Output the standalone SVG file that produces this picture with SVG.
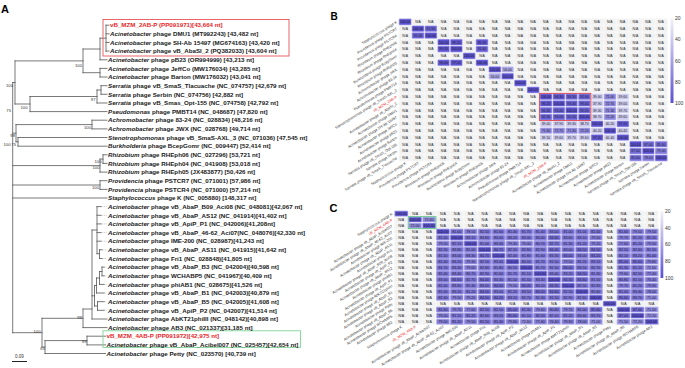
<svg xmlns="http://www.w3.org/2000/svg" width="685" height="368" viewBox="0 0 685 368">
<defs>
<style>
text{font-family:"Liberation Sans",Arial,Helvetica,sans-serif}
.tl{font-size:6.2px;font-weight:bold;fill:#1a1a1a}
.it{font-style:italic}
.red{fill:#e8262a}
.bs{font-size:4.2px;fill:#333;text-anchor:end}
.br{fill:none;stroke:#555;stroke-width:.8;stroke-linecap:square}
.dt{fill:none;stroke:#888;stroke-width:.6;stroke-dasharray:.7 .9}
.pl{font-size:11px;font-weight:bold;fill:#000}
.hl text{font-size:3.7px;fill:#333;text-anchor:end}
.hl .r{fill:#e8262a}
.cl text{text-anchor:middle;fill:#222;font-kerning:none}
#hb .cl text{font-size:3.4px}
#hc .cl text{font-size:3.6px}
#hb .cl .na{text-anchor:start;word-spacing:6.187px}
#hc .cl .na{text-anchor:start;word-spacing:6.898px}
#hb .cl rect{y:-4.6px;width:12.8px;height:6.8px}
#hc .cl rect{y:-4.3px;width:13.9px;height:6px}
.cl rect{stroke:#fff;stroke-width:.4}
.a{fill:#5a50d2}.b{fill:#6056d3}.c{fill:#685fd5}.d{fill:#746cd8}.e{fill:#7c74da}.f{fill:#837cdc}.g{fill:#8e88df}.h{fill:#aca8e6}.i{fill:#cccaee}
.cb{font-size:5px;fill:#333}
</style>
<linearGradient id="cg" x1="0" y1="0" x2="0" y2="1"><stop offset="0" stop-color="#f2f2f7"/><stop offset="1" stop-color="#5a50d2"/></linearGradient>
<pattern id="gb" width="12.8" height="6.8" patternUnits="userSpaceOnUse"><rect width="12.8" height="6.8" fill="none" stroke="#fff" stroke-width=".6"/></pattern>
<pattern id="gc" width="13.9" height="6" patternUnits="userSpaceOnUse"><rect width="13.9" height="6" fill="none" stroke="#fff" stroke-width=".6"/></pattern>
</defs>
<rect width="685" height="368" fill="#fff"/>
<text class="pl" x="1" y="12.5">A</text>
<text class="pl" x="330.5" y="19.5" style="font-size:10px">B</text>
<text class="pl" x="329.5" y="212">C</text>

<g id="connectors">
<path class="br" d="M106 25.2V51.1M106 25.2H109M106 33.8H109M106 42.5H109M106 51.1H109M100 38.2H106M100 38.2V59.8M100 59.8H107M83 49H100M100 68.4V77M100 68.4H107M100 77H107M83 72.7H100M83 49V72.7M15 60.9H83M101 85.7V94.3M101 85.7H107M101 94.3H107M97 90H101M97 90V103M97 103H107M30 96.5H97M30 96.5V111.6M30 111.6H107M15 60.9V104M15 104H30M12.7 82.5H15M12.7 82.5V332.7M92 120.2V128.9M92 120.2H107M92 128.9H107M16 124.6H92M16 124.6V141.8M18 137.5V146.2M18 137.5H107M18 146.2H107M16 141.8H18M12.7 133.2H16M103 154.8V163.4M103 154.8H107M103 163.4H107M100 159.1H103M100 159.1V172.1M100 172.1H107M12.7 165.6H100M100 180.7V189.4M100 180.7H107M100 189.4H107M12.7 185H100M12.7 198H107M97 206.6V253.7M97 206.6H101M97 215.3H101M97 223.9H101M97 232.6H101M97 241.2H101M92 230H97M99.5 249.8V258.5M99.5 249.8H102M99.5 258.5H102M97 253.7H99.5M102 267.1V275.8M102 267.1H104M102 275.8H104M99.5 271.5H102M99.5 271.5V284.4M99.5 284.4H104M96.5 278H99.5M96.5 278V293M96.5 293H104M97.5 301.7V310.3M97.5 301.7H104M97.5 310.3H104M94.5 285.5H96.5M94.5 285.5V306M94.5 306H97.5M92 295.8H94.5M92 230V319M92 319H107M83 309H92M83 309V327.6M83 327.6H107M42 318.3H83M42 318.3V347M42 347H45M45 340.6V353.5M45 353.5H105.5M45 340.6H87M87 336.2V344.9M87 336.2H105.5M87 344.9H105.5M12.7 332.7H42"/>
<path class="dt" d="M101 206.6H107M101 215.3H107M101 223.9H107M101 232.6H107M101 241.2H107M102 249.8H107M102 258.5H107M104 267.1H107M104 275.8H107M104 284.4H107M104 293H107M104 301.7H107M104 310.3H107"/>
<path d="M12 361.5H27" stroke="#222" stroke-width="1"/>
</g>
<g id="bootstrap">
<text class="bs" x="82" y="66.5">100</text>
<text class="bs" x="95.5" y="100.5">97</text>
<text class="bs" x="27.5" y="108.5">100</text>
<text class="bs" x="13" y="87">100</text>
<text class="bs" x="11" y="111.5">75</text>
<text class="bs" x="91" y="128.5">100</text>
<text class="bs" x="15" y="136.5">98</text>
<text class="bs" x="10.5" y="146">100</text>
<text class="bs" x="16" y="146">75</text>
<text class="bs" x="101.5" y="162.5">100</text>
<text class="bs" x="99.5" y="169.2">100</text>
<text class="bs" x="99" y="189.2">100</text>
<text class="bs" x="82" y="319.2">99</text>
<text class="bs" x="40.5" y="333.2">100</text>
<text class="bs" x="86.5" y="343.2">99</text>
<text class="bs" x="45" y="349.8">65</text>
<text x="15" y="358" style="font-size:4.5px;fill:#333">0.09</text>
</g>
<rect x="103" y="19.5" width="186" height="36.5" fill="none" stroke="#e8545a" stroke-width=".9"/>
<rect x="103" y="330.8" width="197.5" height="16.6" fill="none" stroke="#7dd497" stroke-width=".9"/>
<g id="tips" class="tl">
<g id="t1"><text class="tl red" x="110" y="27.4">vB_MZM_2AB-P (PP091971)[43,664 nt]</text></g>
<g id="t2"><text x="110" y="36"><tspan class="it">Acinetobacter</tspan> phage DMU1 (MT992243) [43,482 nt]</text></g>
<g id="t3"><text x="110" y="44.7"><tspan class="it">Acinetobacter</tspan> phage SH-Ab 15497 (MG674163) [43,420 nt]</text></g>
<g id="t4"><text x="110" y="53.3"><tspan class="it">Acinetobacter</tspan> phage vB_AbaSI_2 (PQ382033) [43,604 nt]</text></g>
<g id="t5"><text x="108" y="62"><tspan class="it">Acinetobacter</tspan> phage pB23 (OR994999) [43,213 nt]</text></g>
<g id="t6"><text x="108" y="70.6"><tspan class="it">Acinetobacter</tspan> phage JeffCo (MW176034) [43,285 nt]</text></g>
<g id="t7"><text x="108" y="79.2"><tspan class="it">Acinetobacter</tspan> phage Barton (MW176032) [43,041 nt]</text></g>
<g id="t8"><text x="108" y="87.9"><tspan class="it">Serratia</tspan> phage vB_SmaS_Tlacuache (NC_074757) [42,679 nt]</text></g>
<g id="t9"><text x="108" y="96.5"><tspan class="it">Serratia</tspan> phage Serbin (NC_074756) [42,882 nt]</text></g>
<g id="t10"><text x="108" y="105.2"><tspan class="it">Serratia</tspan> phage vB_Smas_Opt-155 (NC_074758) [42,792 nt]</text></g>
<g id="t11"><text x="108" y="113.8"><tspan class="it">Pseudomonas</tspan> phage PMBT14 (NC_048687) [47,820 nt]</text></g>
<g id="t12"><text x="108" y="122.4"><tspan class="it">Achromobacter</tspan> phage 83-24 (NC_028834) [48,216 nt]</text></g>
<g id="t13"><text x="108" y="131.1"><tspan class="it">Achromobacter</tspan> phage JWX (NC_028768) [49,714 nt]</text></g>
<g id="t14"><text x="108" y="139.7"><tspan class="it">Stenotrophomonas</tspan> phage vB_SmaS-AXL_3 (NC_071036) [47,545 nt]</text></g>
<g id="t15"><text x="108" y="148.4"><tspan class="it">Burkholderia</tspan> phage BcepGomr (NC_009447) [52,414 nt]</text></g>
<g id="t16"><text x="108" y="157"><tspan class="it">Rhizobium</tspan> phage RHEph06 (NC_027296) [53,721 nt]</text></g>
<g id="t17"><text x="108" y="165.6"><tspan class="it">Rhizobium</tspan> phage RHEph04 (NC_041908) [53,018 nt]</text></g>
<g id="t18"><text x="108" y="174.3"><tspan class="it">Rhizobium</tspan> phage RHEph05 (JX483877) [50,426 nt]</text></g>
<g id="t19"><text x="108" y="182.9"><tspan class="it">Providencia</tspan> phage PSTCR7 (NC_071001) [57,986 nt]</text></g>
<g id="t20"><text x="108" y="191.6"><tspan class="it">Providencia</tspan> phage PSTCR4 (NC_071000) [57,214 nt]</text></g>
<g id="t21"><text x="108" y="200.2"><tspan class="it">Staphylococcus</tspan> phage K (NC_005880) [148,317 nt]</text></g>
<g id="t22"><text x="108" y="208.8"><tspan class="it">Acinetobacter</tspan> phage vB_AbaP_B09_Aci08 (NC_048081)[42,067 nt]</text></g>
<g id="t23"><text x="108" y="217.5"><tspan class="it">Acinetobacter</tspan> phage vB_AbaP_AS12 (NC_041914)[41,402 nt]</text></g>
<g id="t24"><text x="108" y="226.1"><tspan class="it">Acinetobacter</tspan> phage vB_ApiP_P1 (NC_042006)[41,208nt]</text></g>
<g id="t25"><text x="108" y="234.8"><tspan class="it">Acinetobacter</tspan> phage vB_AbaP_46-62_Aci07(NC_048076)[42,330 nt]</text></g>
<g id="t26"><text x="108" y="243.4"><tspan class="it">Acinetobacter</tspan> phage IME-200 (NC_028987)[41,243 nt]</text></g>
<g id="t27"><text x="108" y="252"><tspan class="it">Acinetobacter</tspan> phage vB_AbaP_AS11 (NC_041915)[41,642 nt]</text></g>
<g id="t28"><text x="108" y="260.7"><tspan class="it">Acinetobacter</tspan> phage Fri1 (NC_028848)[41,805 nt]</text></g>
<g id="t29"><text x="108" y="269.3"><tspan class="it">Acinetobacter</tspan> phage vB_AbaP_B3 (NC_042004)[40,598 nt]</text></g>
<g id="t30"><text x="108" y="278"><tspan class="it">Acinetobacter</tspan> phage WCHABP5 (NC_041967)[40,409 nt]</text></g>
<g id="t31"><text x="108" y="286.6"><tspan class="it">Acinetobacter</tspan> phage phiAB1 (NC_028675)[41,526 nt]</text></g>
<g id="t32"><text x="108" y="295.2"><tspan class="it">Acinetobacter</tspan> phage vB_AbaP_B1 (NC_042003)[40,879 nt]</text></g>
<g id="t33"><text x="108" y="303.9"><tspan class="it">Acinetobacter</tspan> phage vB_AbaP_B5 (NC_042005)[41,608 nt]</text></g>
<g id="t34"><text x="108" y="312.5"><tspan class="it">Acinetobacter</tspan> phage vB_ApiP_P2 (NC_042007)[41,514 nt]</text></g>
<g id="t35"><text x="108" y="321.2"><tspan class="it">Acinetobacter</tspan> phage AbKT21phiIII (NC_048142)[40,898 nt]</text></g>
<g id="t36"><text x="108" y="329.8"><tspan class="it">Acinetobacter</tspan> phage AB3 (NC_021337)[31,185 nt]</text></g>
<g id="t37"><text class="tl red" x="106.5" y="338.4">vB_MZM_4AB-P (PP091972)[42,975 nt]</text></g>
<g id="t38"><text x="106.5" y="347.1"><tspan class="it">Acinetobacter</tspan> phage vB_AbaP_Acibel007 (NC_025457)[42,654 nt]</text></g>
<g id="t39"><text x="106.5" y="355.7"><tspan class="it">Acinetobacter</tspan> phage Petty (NC_023570) [40,739 nt]</text></g>
</g>

<g id="hb" transform="translate(398.8 18.5)">
<rect width="268.8" height="142.8" fill="#f1f1f1"/>
<g class="cl">
<g transform="translate(0 4.6)"><rect class="a" x="0"/><text x="6.4">100.00</text><text class="na" x="16.37">N/A N/A N/A N/A N/A N/A N/A N/A N/A N/A N/A N/A N/A N/A N/A N/A N/A N/A N/A N/A</text></g>
<g transform="translate(0 11.4)"><rect class="a" x="12.8"/><rect class="c" x="25.6"/><text x="19.2">100.00</text><text x="32">91.90</text><text class="na" x="3.57">N/A</text><text class="na" x="41.97">N/A N/A N/A N/A N/A N/A N/A N/A N/A N/A N/A N/A N/A N/A N/A N/A N/A N/A</text></g>
<g transform="translate(0 18.2)"><rect class="c" x="12.8"/><rect class="a" x="25.6"/><text x="19.2">91.00</text><text x="32">100.00</text><text class="na" x="3.57">N/A</text><text class="na" x="41.97">N/A N/A N/A N/A N/A N/A N/A N/A N/A N/A N/A N/A N/A N/A N/A N/A N/A N/A</text></g>
<g transform="translate(0 25)"><rect class="a" x="38.4"/><rect class="b" x="51.2"/><rect class="b" x="76.8"/><text x="44.8">100.00</text><text x="57.6">99.20</text><text x="83.2">95.90</text><text class="na" x="3.57">N/A N/A N/A</text><text class="na" x="67.57">N/A</text><text class="na" x="93.17">N/A N/A N/A N/A N/A N/A N/A N/A N/A N/A N/A N/A N/A N/A</text></g>
<g transform="translate(0 31.8)"><rect class="b" x="38.4"/><rect class="a" x="51.2"/><rect class="c" x="76.8"/><text x="44.8">99.20</text><text x="57.6">100.00</text><text x="83.2">91.00</text><text class="na" x="3.57">N/A N/A N/A</text><text class="na" x="67.57">N/A</text><text class="na" x="93.17">N/A N/A N/A N/A N/A N/A N/A N/A N/A N/A N/A N/A N/A N/A</text></g>
<g transform="translate(0 38.6)"><rect class="a" x="64"/><text x="70.4">100.00</text><text class="na" x="3.57">N/A N/A N/A N/A N/A</text><text class="na" x="80.37">N/A N/A N/A N/A N/A N/A N/A N/A N/A N/A N/A N/A N/A N/A N/A</text></g>
<g transform="translate(0 45.4)"><rect class="b" x="38.4"/><rect class="b" x="51.2"/><rect class="a" x="76.8"/><text x="44.8">96.00</text><text x="57.6">97.50</text><text x="83.2">100.00</text><text class="na" x="3.57">N/A N/A N/A</text><text class="na" x="67.57">N/A</text><text class="na" x="93.17">N/A N/A N/A N/A N/A N/A N/A N/A N/A N/A N/A N/A N/A N/A</text></g>
<g transform="translate(0 52.2)"><rect class="a" x="89.6"/><rect class="h" x="102.4"/><text x="96">100.00</text><text x="108.8">56.00</text><text class="na" x="3.57">N/A N/A N/A N/A N/A N/A N/A</text><text class="na" x="118.77">N/A N/A N/A N/A N/A N/A N/A N/A N/A N/A N/A N/A</text></g>
<g transform="translate(0 59)"><rect class="h" x="89.6"/><rect class="a" x="102.4"/><text x="96">56.00</text><text x="108.8">100.00</text><text class="na" x="3.57">N/A N/A N/A N/A N/A N/A N/A</text><text class="na" x="118.77">N/A N/A N/A N/A N/A N/A N/A N/A N/A N/A N/A N/A</text></g>
<g transform="translate(0 65.8)"><rect class="a" x="115.2"/><text x="121.6">100.00</text><text class="na" x="3.57">N/A N/A N/A N/A N/A N/A N/A N/A N/A</text><text class="na" x="131.57">N/A N/A N/A N/A N/A N/A N/A N/A N/A N/A N/A</text></g>
<g transform="translate(0 72.6)"><rect class="a" x="128"/><text x="134.4">100.00</text><text class="na" x="3.57">N/A N/A N/A N/A N/A N/A N/A N/A N/A N/A</text><text class="na" x="144.37">N/A N/A N/A N/A N/A N/A N/A N/A N/A N/A</text></g>
<g transform="translate(0 79.4)"><rect class="a" x="140.8"/><rect class="b" x="153.6"/><rect class="c" x="166.4"/><rect class="c" x="179.2"/><rect class="i" x="192"/><rect class="g" x="204.8"/><rect class="i" x="217.6"/><text x="147.2">100.00</text><text x="160">96.30</text><text x="172.8">94.30</text><text x="185.6">92.90</text><text x="198.4">39.00</text><text x="211.2">71.00</text><text x="224">39.60</text><text class="na" x="3.57">N/A N/A N/A N/A N/A N/A N/A N/A N/A N/A N/A</text><text class="na" x="233.97">N/A N/A N/A</text></g>
<g transform="translate(0 86.2)"><rect class="b" x="140.8"/><rect class="a" x="153.6"/><rect class="c" x="166.4"/><rect class="c" x="179.2"/><rect class="i" x="192"/><rect class="g" x="204.8"/><rect class="i" x="217.6"/><text x="147.2">96.20</text><text x="160">100.00</text><text x="172.8">93.40</text><text x="185.6">93.00</text><text x="198.4">37.90</text><text x="211.2">72.70</text><text x="224">39.00</text><text class="na" x="3.57">N/A N/A N/A N/A N/A N/A N/A N/A N/A N/A N/A</text><text class="na" x="233.97">N/A N/A N/A</text></g>
<g transform="translate(0 93)"><rect class="c" x="140.8"/><rect class="c" x="153.6"/><rect class="a" x="166.4"/><rect class="c" x="179.2"/><rect class="i" x="192"/><rect class="g" x="204.8"/><rect class="i" x="217.6"/><text x="147.2">94.30</text><text x="160">93.40</text><text x="172.8">100.00</text><text x="185.6">92.20</text><text x="198.4">39.30</text><text x="211.2">71.30</text><text x="224">39.70</text><text class="na" x="3.57">N/A N/A N/A N/A N/A N/A N/A N/A N/A N/A N/A</text><text class="na" x="233.97">N/A N/A N/A</text></g>
<g transform="translate(0 99.8)"><rect class="c" x="140.8"/><rect class="c" x="153.6"/><rect class="c" x="166.4"/><rect class="a" x="179.2"/><rect class="i" x="192"/><rect class="g" x="204.8"/><rect class="i" x="217.6"/><text x="147.2">92.90</text><text x="160">93.00</text><text x="172.8">92.20</text><text x="185.6">100.00</text><text x="198.4">38.70</text><text x="211.2">72.20</text><text x="224">39.60</text><text class="na" x="3.57">N/A N/A N/A N/A N/A N/A N/A N/A N/A N/A N/A</text><text class="na" x="233.97">N/A N/A N/A</text></g>
<g transform="translate(0 106.6)"><rect class="i" x="140.8"/><rect class="i" x="153.6"/><rect class="i" x="166.4"/><rect class="i" x="179.2"/><rect class="a" x="192"/><rect class="i" x="204.8"/><rect class="b" x="217.6"/><text x="147.2">39.00</text><text x="160">37.90</text><text x="172.8">39.30</text><text x="185.6">38.70</text><text x="198.4">100.00</text><text x="211.2">40.20</text><text x="224">97.20</text><text class="na" x="3.57">N/A N/A N/A N/A N/A N/A N/A N/A N/A N/A N/A</text><text class="na" x="233.97">N/A N/A N/A</text></g>
<g transform="translate(0 113.4)"><rect class="g" x="140.8"/><rect class="g" x="153.6"/><rect class="g" x="166.4"/><rect class="g" x="179.2"/><rect class="i" x="192"/><rect class="a" x="204.8"/><rect class="i" x="217.6"/><text x="147.2">71.60</text><text x="160">72.70</text><text x="172.8">71.30</text><text x="185.6">72.20</text><text x="198.4">40.20</text><text x="211.2">100.00</text><text x="224">40.40</text><text class="na" x="3.57">N/A N/A N/A N/A N/A N/A N/A N/A N/A N/A N/A</text><text class="na" x="233.97">N/A N/A N/A</text></g>
<g transform="translate(0 120.2)"><rect class="i" x="140.8"/><rect class="i" x="153.6"/><rect class="i" x="166.4"/><rect class="i" x="179.2"/><rect class="b" x="192"/><rect class="i" x="204.8"/><rect class="a" x="217.6"/><text x="147.2">39.50</text><text x="160">39.60</text><text x="172.8">39.70</text><text x="185.6">39.60</text><text x="198.4">97.20</text><text x="211.2">40.40</text><text x="224">100.00</text><text class="na" x="3.57">N/A N/A N/A N/A N/A N/A N/A N/A N/A N/A N/A</text><text class="na" x="233.97">N/A N/A N/A</text></g>
<g transform="translate(0 127)"><rect class="a" x="230.4"/><rect class="d" x="243.2"/><rect class="d" x="256"/><text x="236.8">100.00</text><text x="249.6">87.00</text><text x="262.4">85.00</text><text class="na" x="3.57">N/A N/A N/A N/A N/A N/A N/A N/A N/A N/A N/A N/A N/A N/A N/A N/A N/A N/A</text></g>
<g transform="translate(0 133.8)"><rect class="d" x="230.4"/><rect class="a" x="243.2"/><rect class="f" x="256"/><text x="236.8">87.00</text><text x="249.6">100.00</text><text x="262.4">79.00</text><text class="na" x="3.57">N/A N/A N/A N/A N/A N/A N/A N/A N/A N/A N/A N/A N/A N/A N/A N/A N/A N/A</text></g>
<g transform="translate(0 140.6)"><rect class="d" x="230.4"/><rect class="f" x="243.2"/><rect class="a" x="256"/><text x="236.8">85.00</text><text x="249.6">78.00</text><text x="262.4">100.00</text><text class="na" x="3.57">N/A N/A N/A N/A N/A N/A N/A N/A N/A N/A N/A N/A N/A N/A N/A N/A N/A N/A</text></g>
</g>
<rect width="268.8" height="142.8" fill="url(#gb)"/>
<rect x="140.8" y="74.8" width="51.2" height="27.2" fill="none" stroke="#e0303a" stroke-width=".8"/>
<g class="hl">
<text transform="translate(-1.5 4.4)rotate(-32)">Staphylococcus phage K</text>
<text transform="translate(-1.5 11.2)rotate(-32)">Providencia phage PSTCR7</text>
<text transform="translate(-1.5 18)rotate(-32)">Providencia phage PSTCR4</text>
<text transform="translate(-1.5 24.8)rotate(-32)">Rhizobium phage RHEph06</text>
<text transform="translate(-1.5 31.6)rotate(-32)">Rhizobium phage RHEph04</text>
<text transform="translate(-1.5 38.4)rotate(-32)">Burkholderia phage BcepGomr</text>
<text transform="translate(-1.5 45.2)rotate(-32)">Rhizobium phage RHEph05</text>
<text transform="translate(-1.5 52)rotate(-32)">Achromobacter phage JWX</text>
<text transform="translate(-1.5 58.8)rotate(-32)">Achromobacter phage 83-24</text>
<text transform="translate(-1.5 65.6)rotate(-32)">Pseudomonas phage PMBT14</text>
<text transform="translate(-1.5 72.4)rotate(-32)">Stenotrophomonas phage vB_SmaS-AXL_3</text>
<text class="r" transform="translate(-1.5 79.2)rotate(-32)">vB_MZM_2AB-P</text>
<text transform="translate(-1.5 86)rotate(-32)">Acinetobacter phage vB_AbaSI_2</text>
<text transform="translate(-1.5 92.8)rotate(-32)">Acinetobacter phage DMU1</text>
<text transform="translate(-1.5 99.6)rotate(-32)">Acinetobacter phage SH-Ab 15497</text>
<text transform="translate(-1.5 106.4)rotate(-32)">Acinetobacter phage JeffCo</text>
<text transform="translate(-1.5 113.2)rotate(-32)">Acinetobacter phage pB23</text>
<text transform="translate(-1.5 120)rotate(-32)">Acinetobacter phage Barton</text>
<text transform="translate(-1.5 126.8)rotate(-32)">Serratia phage vB_SmaS_Opt-155</text>
<text transform="translate(-1.5 133.6)rotate(-32)">Serratia phage Serbin</text>
<text transform="translate(-1.5 140.4)rotate(-32)">Serratia phage vB_SmaS_Tlacuache</text>
<text transform="translate(7.6 145.5)rotate(-32)">Staphylococcus phage K</text>
<text transform="translate(20.4 145.5)rotate(-32)">Providencia phage PSTCR7</text>
<text transform="translate(33.2 145.5)rotate(-32)">Providencia phage PSTCR4</text>
<text transform="translate(46 145.5)rotate(-32)">Rhizobium phage RHEph06</text>
<text transform="translate(58.8 145.5)rotate(-32)">Rhizobium phage RHEph04</text>
<text transform="translate(71.6 145.5)rotate(-32)">Burkholderia phage BcepGomr</text>
<text transform="translate(84.4 145.5)rotate(-32)">Rhizobium phage RHEph05</text>
<text transform="translate(97.2 145.5)rotate(-32)">Achromobacter phage JWX</text>
<text transform="translate(110 145.5)rotate(-32)">Achromobacter phage 83-24</text>
<text transform="translate(122.8 145.5)rotate(-32)">Pseudomonas phage PMBT14</text>
<text transform="translate(135.6 145.5)rotate(-32)">Stenotrophomonas phage vB_SmaS-AXL_3</text>
<text class="r" transform="translate(148.4 145.5)rotate(-32)">vB_MZM_2AB-P</text>
<text transform="translate(161.2 145.5)rotate(-32)">Acinetobacter phage vB_AbaSI_2</text>
<text transform="translate(174 145.5)rotate(-32)">Acinetobacter phage DMU1</text>
<text transform="translate(186.8 145.5)rotate(-32)">Acinetobacter phage SH-Ab 15497</text>
<text transform="translate(199.6 145.5)rotate(-32)">Acinetobacter phage JeffCo</text>
<text transform="translate(212.4 145.5)rotate(-32)">Acinetobacter phage pB23</text>
<text transform="translate(225.2 145.5)rotate(-32)">Acinetobacter phage Barton</text>
<text transform="translate(238 145.5)rotate(-32)">Serratia phage vB_SmaS_Opt-155</text>
<text transform="translate(250.8 145.5)rotate(-32)">Serratia phage Serbin</text>
<text transform="translate(263.6 145.5)rotate(-32)">Serratia phage vB_SmaS_Tlacuache</text>
</g>
</g>

<g id="hc" transform="translate(394.3 210.7)">
<rect width="264.1" height="114" fill="#f1f1f1"/>
<rect class="e" x="41.7" y="18" width="166.8" height="72"/>
<rect class="e" x="222.4" y="18" width="41.7" height="72"/>
<rect class="e" x="41.7" y="96" width="166.8" height="18"/>
<rect class="e" x="222.4" y="96" width="41.7" height="18"/>
<g class="cl">
<g transform="translate(0 4.3)"><rect class="a" x="0"/><text x="6.9">100.00</text><text class="na" x="17.85">N/A N/A N/A N/A N/A N/A N/A N/A N/A N/A N/A N/A N/A N/A N/A N/A N/A N/A</text></g>
<g transform="translate(0 10.3)"><rect class="a" x="13.9"/><rect class="g" x="27.8"/><text x="20.8">100.00</text><text x="34.7">72.60</text><text class="na" x="3.95">N/A</text><text class="na" x="45.65">N/A N/A N/A N/A N/A N/A N/A N/A N/A N/A N/A N/A N/A N/A N/A N/A</text></g>
<g transform="translate(0 16.3)"><rect class="g" x="13.9"/><rect class="a" x="27.8"/><text x="20.8">72.00</text><text x="34.7">100.00</text><text class="na" x="3.95">N/A</text><text class="na" x="45.65">N/A N/A N/A N/A N/A N/A N/A N/A N/A N/A N/A N/A N/A N/A N/A N/A</text></g>
<g transform="translate(0 22.3)"><rect class="a" x="41.7"/><rect class="f" x="69.5"/><rect class="f" x="236.3"/><rect class="f" x="250.2"/><text x="48.6">100.00</text><text x="62.5">81.00</text><text x="76.4">78.50</text><text x="90.3">82.50</text><text x="104.2">81.60</text><text x="118.1">81.40</text><text x="132">81.70</text><text x="145.9">81.40</text><text x="159.8">83.00</text><text x="173.7">81.00</text><text x="187.6">81.00</text><text x="201.5">82.40</text><text x="229.3">81.60</text><text x="243.2">79.50</text><text x="257.1">79.50</text><text class="na" x="3.95">N/A N/A N/A</text><text class="na" x="212.45">N/A</text></g>
<g transform="translate(0 28.3)"><rect class="a" x="55.6"/><rect class="d" x="152.9"/><rect class="f" x="194.6"/><rect class="f" x="222.4"/><text x="48.6">81.00</text><text x="62.5">100.00</text><text x="76.4">83.10</text><text x="90.3">83.80</text><text x="104.2">83.00</text><text x="118.1">83.20</text><text x="132">83.30</text><text x="145.9">83.40</text><text x="159.8">84.60</text><text x="173.7">83.60</text><text x="187.6">83.10</text><text x="201.5">79.50</text><text x="229.3">79.70</text><text x="243.2">81.10</text><text x="257.1">81.20</text><text class="na" x="3.95">N/A N/A N/A</text><text class="na" x="212.45">N/A</text></g>
<g transform="translate(0 34.3)"><rect class="f" x="41.7"/><rect class="a" x="69.5"/><rect class="f" x="111.2"/><rect class="f" x="125.1"/><rect class="f" x="194.6"/><rect class="f" x="222.4"/><rect class="f" x="250.2"/><text x="48.6">79.50</text><text x="62.5">82.10</text><text x="76.4">100.00</text><text x="90.3">81.00</text><text x="104.2">83.30</text><text x="118.1">79.30</text><text x="132">79.00</text><text x="145.9">80.70</text><text x="159.8">82.70</text><text x="173.7">81.30</text><text x="187.6">81.20</text><text x="201.5">79.20</text><text x="229.3">77.60</text><text x="243.2">81.20</text><text x="257.1">79.50</text><text class="na" x="3.95">N/A N/A N/A</text><text class="na" x="212.45">N/A</text></g>
<g transform="translate(0 40.3)"><rect class="a" x="83.4"/><rect class="d" x="97.3"/><rect class="d" x="152.9"/><rect class="d" x="180.7"/><rect class="d" x="194.6"/><text x="48.6">82.30</text><text x="62.5">83.80</text><text x="76.4">81.00</text><text x="90.3">100.00</text><text x="104.2">84.70</text><text x="118.1">82.50</text><text x="132">82.80</text><text x="145.9">82.90</text><text x="159.8">84.40</text><text x="173.7">83.00</text><text x="187.6">84.50</text><text x="201.5">84.50</text><text x="229.3">82.50</text><text x="243.2">82.60</text><text x="257.1">81.50</text><text class="na" x="3.95">N/A N/A N/A</text><text class="na" x="212.45">N/A</text></g>
<g transform="translate(0 46.3)"><rect class="d" x="83.4"/><rect class="a" x="97.3"/><rect class="d" x="166.8"/><rect class="d" x="194.6"/><text x="48.6">81.50</text><text x="62.5">83.00</text><text x="76.4">83.30</text><text x="90.3">84.70</text><text x="104.2">100.00</text><text x="118.1">82.40</text><text x="132">81.80</text><text x="145.9">81.60</text><text x="159.8">83.30</text><text x="173.7">84.00</text><text x="187.6">83.00</text><text x="201.5">84.20</text><text x="229.3">82.10</text><text x="243.2">83.20</text><text x="257.1">81.40</text><text class="na" x="3.95">N/A N/A N/A</text><text class="na" x="212.45">N/A</text></g>
<g transform="translate(0 52.3)"><rect class="f" x="69.5"/><rect class="a" x="111.2"/><rect class="f" x="166.8"/><rect class="d" x="222.4"/><rect class="d" x="236.3"/><rect class="f" x="250.2"/><text x="48.6">81.40</text><text x="62.5">83.20</text><text x="76.4">79.30</text><text x="90.3">82.50</text><text x="104.2">83.40</text><text x="118.1">100.00</text><text x="132">80.50</text><text x="145.9">81.70</text><text x="159.8">81.50</text><text x="173.7">79.50</text><text x="187.6">81.20</text><text x="201.5">83.10</text><text x="229.3">85.00</text><text x="243.2">85.60</text><text x="257.1">79.80</text><text class="na" x="3.95">N/A N/A N/A</text><text class="na" x="212.45">N/A</text></g>
<g transform="translate(0 58.3)"><rect class="f" x="69.5"/><rect class="a" x="125.1"/><rect class="d" x="166.8"/><rect class="g" x="250.2"/><text x="48.6">81.70</text><text x="62.5">83.30</text><text x="76.4">79.00</text><text x="90.3">82.80</text><text x="104.2">81.80</text><text x="118.1">80.50</text><text x="132">100.00</text><text x="145.9">81.70</text><text x="159.8">81.50</text><text x="173.7">84.00</text><text x="187.6">83.50</text><text x="201.5">82.70</text><text x="229.3">81.30</text><text x="243.2">81.10</text><text x="257.1">72.60</text><text class="na" x="3.95">N/A N/A N/A</text><text class="na" x="212.45">N/A</text></g>
<g transform="translate(0 64.3)"><rect class="a" x="139"/><rect class="d" x="180.7"/><rect class="f" x="222.4"/><rect class="f" x="250.2"/><text x="48.6">81.40</text><text x="62.5">83.40</text><text x="76.4">80.70</text><text x="90.3">82.90</text><text x="104.2">81.60</text><text x="118.1">81.70</text><text x="132">81.10</text><text x="145.9">100.00</text><text x="159.8">83.40</text><text x="173.7">83.20</text><text x="187.6">84.50</text><text x="201.5">81.30</text><text x="229.3">79.60</text><text x="243.2">82.50</text><text x="257.1">77.40</text><text class="na" x="3.95">N/A N/A N/A</text><text class="na" x="212.45">N/A</text></g>
<g transform="translate(0 70.3)"><rect class="d" x="55.6"/><rect class="d" x="83.4"/><rect class="a" x="152.9"/><rect class="d" x="166.8"/><rect class="d" x="180.7"/><rect class="f" x="250.2"/><text x="48.6">83.00</text><text x="62.5">84.60</text><text x="76.4">82.70</text><text x="90.3">84.40</text><text x="104.2">83.30</text><text x="118.1">81.50</text><text x="132">81.50</text><text x="145.9">83.40</text><text x="159.8">100.00</text><text x="173.7">84.30</text><text x="187.6">84.60</text><text x="201.5">81.50</text><text x="229.3">80.80</text><text x="243.2">82.10</text><text x="257.1">76.40</text><text class="na" x="3.95">N/A N/A N/A</text><text class="na" x="212.45">N/A</text></g>
<g transform="translate(0 76.3)"><rect class="d" x="97.3"/><rect class="f" x="111.2"/><rect class="d" x="125.1"/><rect class="d" x="152.9"/><rect class="a" x="166.8"/><rect class="f" x="222.4"/><rect class="f" x="250.2"/><text x="48.6">81.00</text><text x="62.5">83.60</text><text x="76.4">81.30</text><text x="90.3">83.00</text><text x="104.2">84.00</text><text x="118.1">79.50</text><text x="132">84.00</text><text x="145.9">83.20</text><text x="159.8">84.30</text><text x="173.7">100.00</text><text x="187.6">82.50</text><text x="201.5">82.90</text><text x="229.3">79.70</text><text x="243.2">81.20</text><text x="257.1">79.90</text><text class="na" x="3.95">N/A N/A N/A</text><text class="na" x="212.45">N/A</text></g>
<g transform="translate(0 82.3)"><rect class="d" x="83.4"/><rect class="d" x="139"/><rect class="d" x="152.9"/><rect class="a" x="180.7"/><rect class="f" x="250.2"/><text x="48.6">81.00</text><text x="62.5">83.10</text><text x="76.4">81.20</text><text x="90.3">84.50</text><text x="104.2">83.00</text><text x="118.1">81.20</text><text x="132">83.50</text><text x="145.9">84.50</text><text x="159.8">84.60</text><text x="173.7">82.50</text><text x="187.6">100.00</text><text x="201.5">82.60</text><text x="229.3">81.00</text><text x="243.2">83.40</text><text x="257.1">78.00</text><text class="na" x="3.95">N/A N/A N/A</text><text class="na" x="212.45">N/A</text></g>
<g transform="translate(0 88.3)"><rect class="f" x="55.6"/><rect class="f" x="69.5"/><rect class="d" x="83.4"/><rect class="d" x="97.3"/><rect class="a" x="194.6"/><rect class="d" x="222.4"/><rect class="g" x="250.2"/><text x="48.6">82.40</text><text x="62.5">79.50</text><text x="76.4">79.20</text><text x="90.3">84.50</text><text x="104.2">84.20</text><text x="118.1">83.10</text><text x="132">82.70</text><text x="145.9">81.30</text><text x="159.8">81.50</text><text x="173.7">82.90</text><text x="187.6">82.60</text><text x="201.5">100.00</text><text x="229.3">85.60</text><text x="243.2">83.70</text><text x="257.1">71.00</text><text class="na" x="3.95">N/A N/A N/A</text><text class="na" x="212.45">N/A</text></g>
<g transform="translate(0 94.3)"><rect class="a" x="208.5"/><text x="215.4">100.00</text><text class="na" x="3.95">N/A N/A N/A N/A N/A N/A N/A N/A N/A N/A N/A N/A N/A N/A N/A</text><text class="na" x="226.35">N/A N/A N/A</text></g>
<g transform="translate(0 100.3)"><rect class="f" x="55.6"/><rect class="f" x="69.5"/><rect class="d" x="111.2"/><rect class="f" x="139"/><rect class="f" x="166.8"/><rect class="d" x="194.6"/><rect class="a" x="222.4"/><rect class="d" x="236.3"/><rect class="g" x="250.2"/><text x="48.6">81.60</text><text x="62.5">79.70</text><text x="76.4">77.60</text><text x="90.3">82.50</text><text x="104.2">82.10</text><text x="118.1">85.00</text><text x="132">81.30</text><text x="145.9">79.60</text><text x="159.8">80.80</text><text x="173.7">79.70</text><text x="187.6">81.00</text><text x="201.5">85.60</text><text x="229.3">100.00</text><text x="243.2">87.00</text><text x="257.1">71.50</text><text class="na" x="3.95">N/A N/A N/A</text><text class="na" x="212.45">N/A</text></g>
<g transform="translate(0 106.3)"><rect class="f" x="41.7"/><rect class="d" x="111.2"/><rect class="d" x="222.4"/><rect class="a" x="236.3"/><rect class="g" x="250.2"/><text x="48.6">79.50</text><text x="62.5">81.10</text><text x="76.4">81.20</text><text x="90.3">82.60</text><text x="104.2">83.20</text><text x="118.1">85.60</text><text x="132">81.10</text><text x="145.9">82.50</text><text x="159.8">82.10</text><text x="173.7">81.20</text><text x="187.6">83.40</text><text x="201.5">83.70</text><text x="229.3">87.00</text><text x="243.2">100.00</text><text x="257.1">72.20</text><text class="na" x="3.95">N/A N/A N/A</text><text class="na" x="212.45">N/A</text></g>
<g transform="translate(0 112.3)"><rect class="f" x="41.7"/><rect class="f" x="69.5"/><rect class="f" x="111.2"/><rect class="g" x="125.1"/><rect class="f" x="139"/><rect class="f" x="152.9"/><rect class="f" x="166.8"/><rect class="f" x="180.7"/><rect class="g" x="194.6"/><rect class="g" x="222.4"/><rect class="g" x="236.3"/><rect class="a" x="250.2"/><text x="48.6">79.50</text><text x="62.5">81.20</text><text x="76.4">79.50</text><text x="90.3">81.50</text><text x="104.2">81.40</text><text x="118.1">79.80</text><text x="132">72.60</text><text x="145.9">77.40</text><text x="159.8">76.40</text><text x="173.7">79.90</text><text x="187.6">78.00</text><text x="201.5">71.00</text><text x="229.3">71.50</text><text x="243.2">72.20</text><text x="257.1">100.00</text><text class="na" x="3.95">N/A N/A N/A</text><text class="na" x="212.45">N/A</text></g>
</g>
<rect width="264.1" height="114" fill="url(#gc)"/>
<rect x="13.9" y="6" width="27.8" height="12" fill="none" stroke="#4cbf76" stroke-width=".8"/>
<g class="hl">
<text transform="translate(-1.5 4.1)rotate(-32)">Staphylococcus phage K</text>
<text class="r" transform="translate(-1.5 10.1)rotate(-32)">vB_MZM_4AB-P</text>
<text transform="translate(-1.5 16.1)rotate(-32)">Acinetobacter phage vB_AbaP_Acibel007</text>
<text transform="translate(-1.5 22.1)rotate(-32)">Acinetobacter phage vB_AbaP_46-62_Aci07</text>
<text transform="translate(-1.5 28.1)rotate(-32)">Acinetobacter phage IME-200</text>
<text transform="translate(-1.5 34.1)rotate(-32)">Acinetobacter phage vB_AbaP_AS11</text>
<text transform="translate(-1.5 40.1)rotate(-32)">Acinetobacter phage Fri1</text>
<text transform="translate(-1.5 46.1)rotate(-32)">Acinetobacter phage vB_AbaP_B09_Aci08</text>
<text transform="translate(-1.5 52.1)rotate(-32)">Acinetobacter phage vB_ApiP_P2</text>
<text transform="translate(-1.5 58.1)rotate(-32)">Acinetobacter phage vB_AbaP_AS12</text>
<text transform="translate(-1.5 64.1)rotate(-32)">Acinetobacter phage phiAB1</text>
<text transform="translate(-1.5 70.1)rotate(-32)">Acinetobacter phage vB_ApiP_P1</text>
<text transform="translate(-1.5 76.1)rotate(-32)">Acinetobacter phage AbKT21phiIII</text>
<text transform="translate(-1.5 82.1)rotate(-32)">Acinetobacter phage vB_AbaP_B1</text>
<text transform="translate(-1.5 88.1)rotate(-32)">Acinetobacter phage vB_AbaP_B3</text>
<text transform="translate(-1.5 94.1)rotate(-32)">Acinetobacter phage Petty</text>
<text transform="translate(-1.5 100.1)rotate(-32)">Acinetobacter phage vB_AbaP_B5</text>
<text transform="translate(-1.5 106.1)rotate(-32)">Acinetobacter phage WCHABP5</text>
<text transform="translate(-1.5 112.1)rotate(-32)">Acinetobacter phage AB3</text>
<text transform="translate(8.15 116.7)rotate(-32)">Staphylococcus phage K</text>
<text class="r" transform="translate(22.05 116.7)rotate(-32)">vB_MZM_4AB-P</text>
<text transform="translate(35.95 116.7)rotate(-32)">Acinetobacter phage vB_AbaP_Acibel007</text>
<text transform="translate(49.85 116.7)rotate(-32)">Acinetobacter phage vB_AbaP_46-62_Aci07</text>
<text transform="translate(63.75 116.7)rotate(-32)">Acinetobacter phage IME-200</text>
<text transform="translate(77.65 116.7)rotate(-32)">Acinetobacter phage vB_AbaP_AS11</text>
<text transform="translate(91.55 116.7)rotate(-32)">Acinetobacter phage Fri1</text>
<text transform="translate(105.45 116.7)rotate(-32)">Acinetobacter phage vB_AbaP_B09_Aci08</text>
<text transform="translate(119.35 116.7)rotate(-32)">Acinetobacter phage vB_ApiP_P2</text>
<text transform="translate(133.25 116.7)rotate(-32)">Acinetobacter phage vB_AbaP_AS12</text>
<text transform="translate(147.15 116.7)rotate(-32)">Acinetobacter phage phiAB1</text>
<text transform="translate(161.05 116.7)rotate(-32)">Acinetobacter phage vB_ApiP_P1</text>
<text transform="translate(174.95 116.7)rotate(-32)">Acinetobacter phage AbKT21phiIII</text>
<text transform="translate(188.85 116.7)rotate(-32)">Acinetobacter phage vB_AbaP_B1</text>
<text transform="translate(202.75 116.7)rotate(-32)">Acinetobacter phage vB_AbaP_B3</text>
<text transform="translate(216.65 116.7)rotate(-32)">Acinetobacter phage Petty</text>
<text transform="translate(230.55 116.7)rotate(-32)">Acinetobacter phage vB_AbaP_B5</text>
<text transform="translate(244.45 116.7)rotate(-32)">Acinetobacter phage WCHABP5</text>
<text transform="translate(258.35 116.7)rotate(-32)">Acinetobacter phage AB3</text>
</g>
</g>

<g id="legendB">
<rect x="670.5" y="18.5" width="3" height="84.5" fill="url(#cg)"/>
<text class="cb" x="675" y="20.3">20</text>
<text class="cb" x="675" y="41.4">40</text>
<text class="cb" x="675" y="62.6">60</text>
<text class="cb" x="675" y="83.7">80</text>
<text class="cb" x="675" y="104.8">100</text>
</g>
<g id="legendC">
<rect x="660.5" y="211" width="2.8" height="67" fill="url(#cg)"/>
<text class="cb" x="665" y="212.8">20</text>
<text class="cb" x="665" y="229.6">40</text>
<text class="cb" x="665" y="246.3">60</text>
<text class="cb" x="665" y="263.1">80</text>
<text class="cb" x="665" y="279.8">100</text>
</g>
</svg>
